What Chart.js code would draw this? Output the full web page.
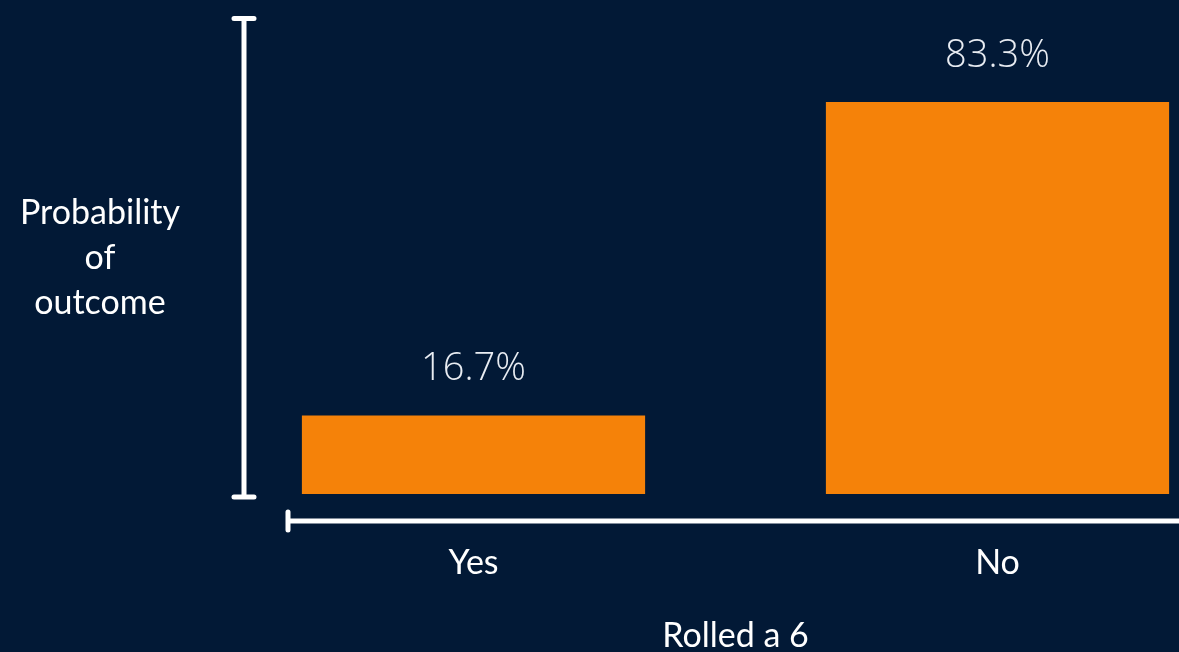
<!DOCTYPE html>
<html>
<head>
<meta charset="utf-8">
<script src="https://cdn.jsdelivr.net/npm/chart.js@4"></script>
<style>
  html, body { margin: 0; padding: 0; background: #021936; overflow: hidden; width: 1179px; height: 652px; }
  #dice-chart { display: block; }
</style>
</head>
<body>
<!-- canvas runs past the right edge of the window; the page crops it -->
<canvas id="dice-chart" width="1260" height="652"></canvas>
<script>
const categories = ['Yes', 'No'];
const probabilities = [16.7, 83.3];
const yTitleLines = ['Probability', 'of', 'outcome'];
const xTitle = 'Rolled a 6';

const BG = '#021936';
const ORANGE = '#f58209';
const HAND_FONT = 'Lato, "Noto Sans", sans-serif';

// axis lines with end caps, drawn behind the bars
const axisLines = {
  id: 'axisLines',
  beforeDatasetsDraw(chart) {
    const { ctx, chartArea, scales } = chart;
    const yTop = scales.y.getPixelForValue(100) - 5;
    const yBottom = scales.y.getPixelForValue(0) + 3;
    const yx = chartArea.left + 32.5;
    const xy = chartArea.bottom + 27;
    const xLeft = chartArea.left + 76.5;

    ctx.save();
    ctx.strokeStyle = '#ffffff';
    ctx.lineCap = 'round';
    ctx.lineWidth = 5;
    ctx.beginPath();
    ctx.moveTo(yx, yTop);
    ctx.lineTo(yx, yBottom);
    ctx.moveTo(yx - 10, yTop);
    ctx.lineTo(yx + 10, yTop);
    ctx.moveTo(yx - 10, yBottom);
    ctx.lineTo(yx + 10, yBottom);
    ctx.moveTo(xLeft, xy);
    ctx.lineTo(chart.width + 10, xy);
    ctx.moveTo(xLeft, xy - 9);
    ctx.lineTo(xLeft, xy + 9);
    ctx.stroke();

    // horizontal y title on the left
    ctx.fillStyle = '#ffffff';
    ctx.font = '34px ' + HAND_FONT;
    ctx.textAlign = 'center';
    ctx.textBaseline = 'middle';
    yTitleLines.forEach((line, i) => {
      ctx.fillText(line, 100, 213 + i * 45);
    });
    ctx.restore();
  }
};

// percentage labels above each bar
const valueLabels = {
  id: 'valueLabels',
  afterDatasetsDraw(chart) {
    const { ctx } = chart;
    const meta = chart.getDatasetMeta(0);
    ctx.save();
    ctx.fillStyle = '#e9edf3';
    ctx.font = '300 38px "Open Sans", sans-serif';
    ctx.textAlign = 'center';
    ctx.textBaseline = 'alphabetic';
    meta.data.forEach((bar, i) => {
      ctx.fillText(probabilities[i].toFixed(1) + '%', bar.x, bar.y - 35);
    });
    ctx.restore();
  }
};

const canvasBg = {
  id: 'canvasBg',
  beforeDraw(chart) {
    const { ctx } = chart;
    ctx.save();
    ctx.fillStyle = BG;
    ctx.fillRect(0, 0, chart.width, chart.height);
    ctx.restore();
  }
};

const ctx = document.getElementById('dice-chart').getContext('2d');
new Chart(ctx, {
  type: 'bar',
  data: {
    labels: categories,
    datasets: [{
      data: probabilities,
      backgroundColor: ORANGE,
      borderWidth: 0,
      categoryPercentage: 1,
      barPercentage: 0.655
    }]
  },
  options: {
    responsive: false,
    animation: false,
    layout: {
      padding: { left: 211.5, right: 0.5, top: 23.4, bottom: 0 }
    },
    plugins: {
      legend: { display: false },
      tooltip: { enabled: false }
    },
    scales: {
      y: {
        display: false,
        min: 0,
        max: 100
      },
      x: {
        afterFit(scale) { scale.height = 158; },
        grid: { display: false, drawTicks: false },
        border: { display: false },
        ticks: {
          color: '#ffffff',
          padding: 49,
          font: { family: HAND_FONT, size: 34 }
        },
        title: {
          display: true,
          text: xTitle,
          color: '#ffffff',
          padding: { top: 30, bottom: -4 },
          font: { family: HAND_FONT, size: 34 }
        }
      }
    }
  },
  plugins: [canvasBg, axisLines, valueLabels]
});
</script>
</body>
</html>
